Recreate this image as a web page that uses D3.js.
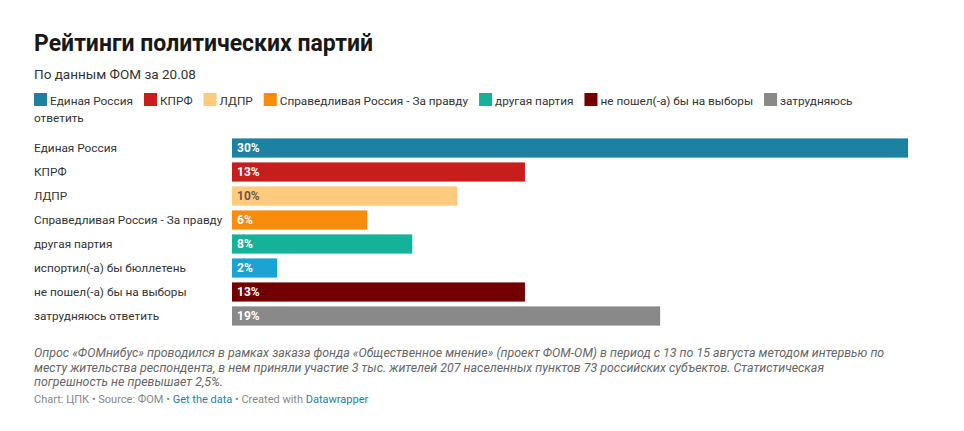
<!DOCTYPE html>
<html><head><meta charset="utf-8">
<script src="https://cdn.jsdelivr.net/npm/d3@7"></script>
<style>
body{margin:0;background:#fff;}
text{font-family:Roboto,"Noto Sans",sans-serif;}
</style></head>
<body>
<svg id="c" width="964" height="431"></svg>
<script>
const categories = ["Единая Россия","КПРФ","ЛДПР","Справедливая Россия - За правду","другая партия","испортил(-а) бы бюллетень","не пошел(-а) бы на выборы","затрудняюсь ответить"];
const values = [30,13,10,6,8,2,13,19];
const colors = ["#1d81a2","#c71e1d","#fdca7e","#f98c0b","#15b29a","#1aa4d4","#720000","#898989"];
const labelColors = ["#fff","#fff","#6b5a3e","#fff","#fff","#fff","#fff","#fff"];
const legendItems = ["Единая Россия","КПРФ","ЛДПР","Справедливая Россия - За правду","другая партия","не пошел(-а) бы на выборы","затрудняюсь ответить"];
const legendColors = ["#1d81a2","#c71e1d","#fdca7e","#f98c0b","#15b29a","#720000","#898989"];
const title = "Рейтинги политических партий";
const subtitle = "По данным ФОМ за 20.08";
const notes = ["Опрос «ФОМнибус» проводился в рамках заказа фонда «Общественное мнение» (проект ФОМ-ОМ) в период с 13 по 15 августа методом интервью по",
"месту жительства респондента, в нем приняли участие 3 тыс. жителей 207 населенных пунктов 73 российских субъектов. Статистическая",
"погрешность не превышает 2,5%."];

const svg = d3.select("#c");
svg.append("text").attr("x",34).attr("y",51).attr("font-size",23).attr("font-weight",700).attr("fill","#181818").text(title);
svg.append("text").attr("x",34).attr("y",79).attr("font-size",13.5).attr("fill","#333").text(subtitle);

// legend with flow layout
const lg = svg.append("g");
let lx = 34, ly = 100; const maxX = 860, lh = 17;
legendItems.forEach((name,i)=>{
  lg.append("rect").attr("x",lx).attr("y",ly-7).attr("width",13).attr("height",13).attr("fill",legendColors[i]);
  lx += 16;
  const words = name.split(" ");
  let line = "";
  let t = lg.append("text").attr("x",lx).attr("y",ly+4.5).attr("font-size",11.8).attr("fill","#333");
  let startX = lx;
  words.forEach((w,j)=>{
    const trial = line ? line+" "+w : w;
    t.text(trial);
    const wdt = t.node().getComputedTextLength();
    if (startX + wdt > maxX && line){
      t.text(line);
      ly += lh; startX = 34;
      t = lg.append("text").attr("x",34).attr("y",ly+4.5).attr("font-size",11.8).attr("fill","#333").text(w);
      line = w;
    } else line = trial;
  });
  lx = startX + t.node().getComputedTextLength() + 11;
});

const x = d3.scaleLinear().domain([0,30]).range([232,908]);
const y = d3.scaleBand().domain(categories).range([136,328]).paddingInner(0.2).paddingOuter(0.1);
const g = svg.append("g");
g.selectAll("rect.bar").data(categories).join("rect").attr("class","bar")
 .attr("x",x(0)).attr("y",d=>y(d)).attr("height",y.bandwidth())
 .attr("width",(d,i)=>x(values[i])-x(0)).attr("fill",(d,i)=>colors[i]);
g.selectAll("text.cat").data(categories).join("text").attr("class","cat")
 .attr("x",34).attr("y",d=>y(d)+y.bandwidth()/2+4).attr("font-size",11.8).attr("fill","#333").text(d=>d);
g.selectAll("text.val").data(categories).join("text").attr("class","val")
 .attr("x",x(0)+5).attr("y",d=>y(d)+y.bandwidth()/2+4).attr("font-size",12).attr("font-weight",700)
 .attr("fill",(d,i)=>labelColors[i]).text((d,i)=>values[i]+"%");

notes.forEach((n,i)=>{
  svg.append("text").attr("x",34).attr("y",357+i*14.5).attr("font-size",12.4).attr("font-style","italic").attr("fill","#666").text(n);
});
const f = svg.append("text").attr("x",34).attr("y",403).attr("font-size",11).attr("fill","#888");
f.append("tspan").text("Chart: ЦПК • Source: ФОМ • ");
f.append("tspan").attr("fill","#1d81a2").text("Get the data");
f.append("tspan").text(" • Created with ");
f.append("tspan").attr("fill","#1d81a2").text("Datawrapper");
</script>
</body></html>
